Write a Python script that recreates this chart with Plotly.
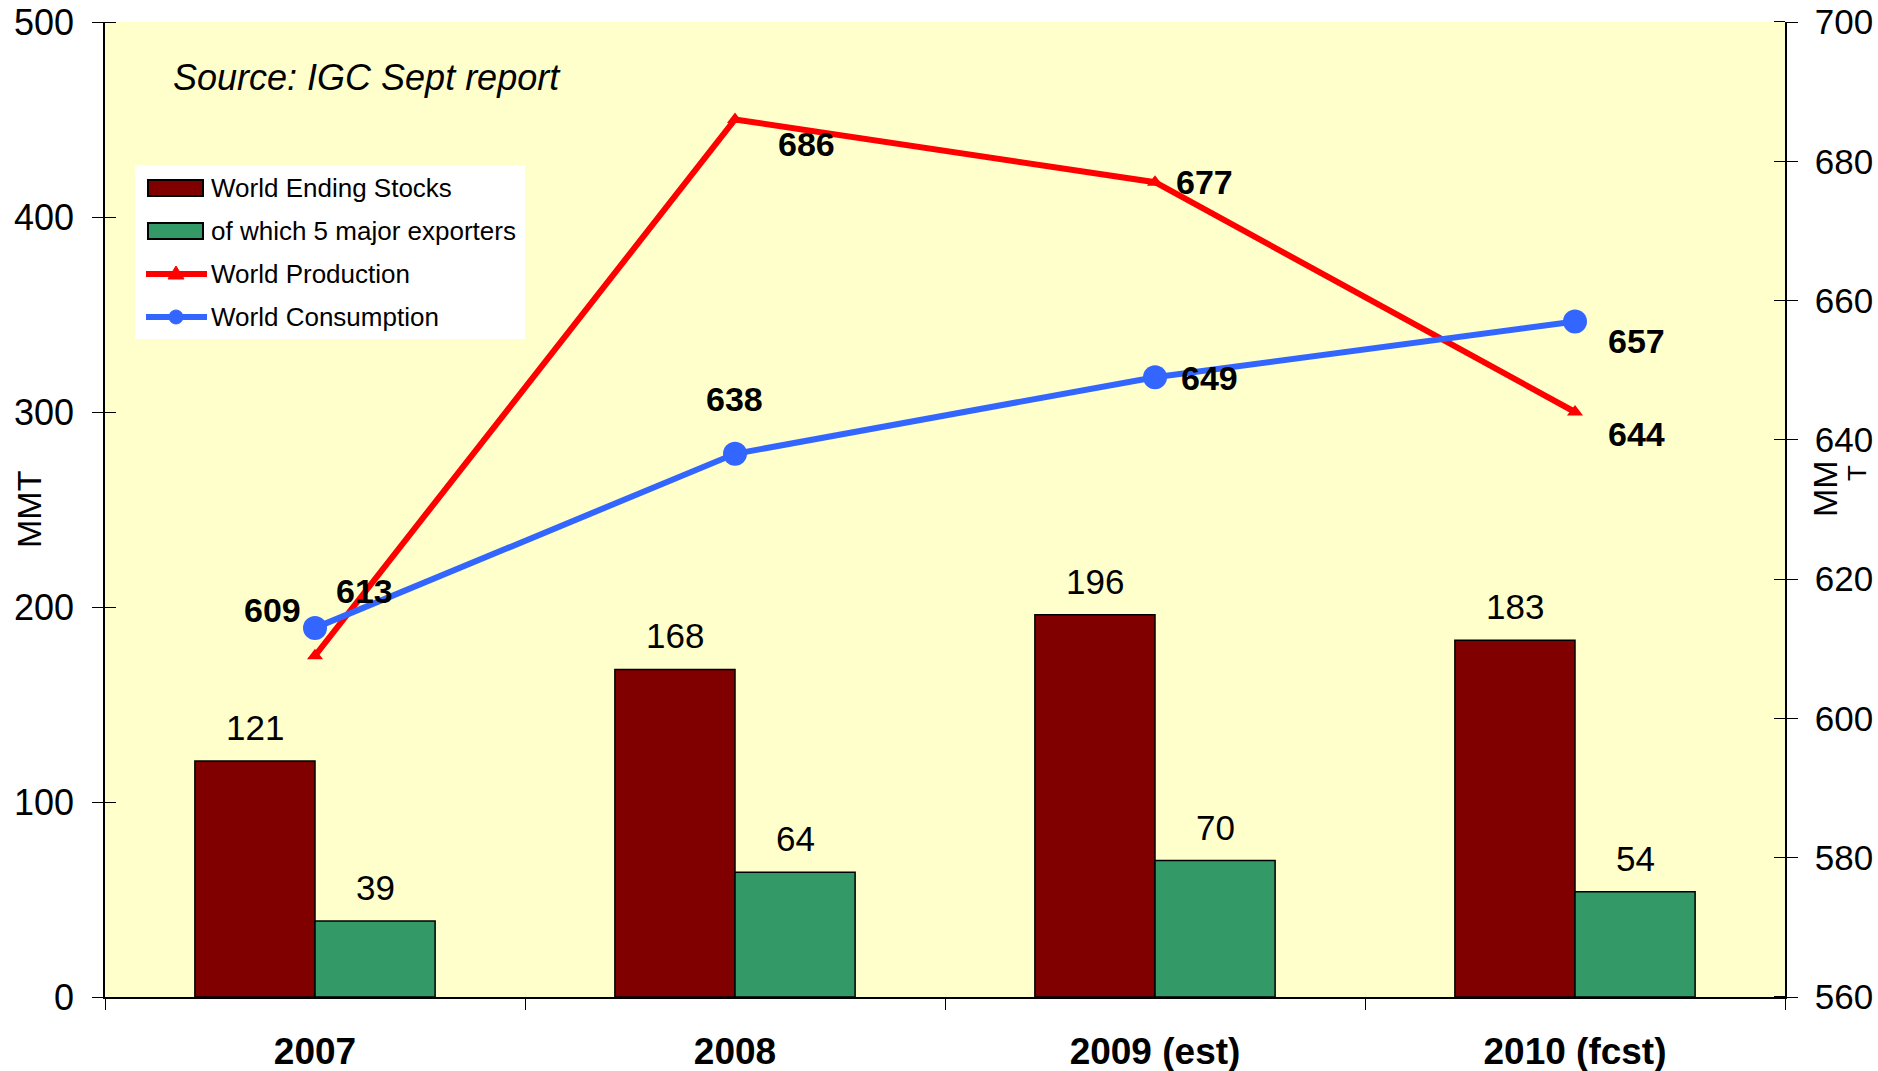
import plotly.graph_objects as go

categories = ["2007", "2008", "2009 (est)", "2010 (fcst)"]
ending_stocks = [121, 168, 196, 183]
major_exporters = [39, 64, 70, 54]
production = [609, 686, 677, 644]
consumption = [613, 638, 649, 657]

left_ticks = [0, 100, 200, 300, 400, 500]
right_ticks = [560, 580, 600, 620, 640, 660, 680, 700]

# label offsets (px) for line-value labels
prod_shift = [(-43, 46), (71, -24), (49, 0), (61, -22)]
cons_shift = [(49, 37), (-1, 55), (54, -1), (61, -20)]

FONT = "Liberation Sans, Arial, sans-serif"
W, H = 1878, 1071
L, R, T, B = 105, 93, 22, 74
PW, PH = W - L - R, H - T - B


def px(x):
    # page pixel x -> paper coordinate
    return (x - L) / PW


def py(y):
    return 1 - (y - T) / PH


fig = go.Figure()
fig.add_trace(go.Bar(
    x=categories, y=ending_stocks, name="World Ending Stocks",
    marker=dict(color="#800000", line=dict(color="black", width=1.5)),
    cliponaxis=False, showlegend=False))
fig.add_trace(go.Bar(
    x=categories, y=major_exporters, name="of which 5 major exporters",
    marker=dict(color="#339966", line=dict(color="black", width=1.5)),
    cliponaxis=False, showlegend=False))
fig.add_trace(go.Scatter(
    x=categories, y=production, name="World Production", mode="lines+markers",
    line=dict(color="#FF0000", width=6),
    marker=dict(symbol="triangle-up", size=14, color="#FF0000"),
    showlegend=False, yaxis="y2", cliponaxis=False))
fig.add_trace(go.Scatter(
    x=categories, y=consumption, name="World Consumption", mode="lines+markers",
    line=dict(color="#3366FF", width=6),
    marker=dict(symbol="circle", size=24, color="#3366FF"),
    showlegend=False, yaxis="y2", cliponaxis=False))

annotations = []
# bar value labels
for i, (a, b) in enumerate(zip(ending_stocks, major_exporters)):
    for v, dx in ((a, -60), (b, 60)):
        annotations.append(dict(x=i, y=v, xref="x", yref="y", text=str(v), showarrow=False,
                                xshift=dx, yshift=12, yanchor="bottom",
                                font=dict(family=FONT, size=35, color="black")))
for i, (v, (dx, dy)) in enumerate(zip(production, prod_shift)):
    annotations.append(dict(x=i, y=v, xref="x", yref="y2", text=str(v), showarrow=False,
                            xshift=dx, yshift=dy,
                            font=dict(family=FONT, size=34, color="black", weight="bold")))
for i, (v, (dx, dy)) in enumerate(zip(consumption, cons_shift)):
    annotations.append(dict(x=i, y=v, xref="x", yref="y2", text=str(v), showarrow=False,
                            xshift=dx, yshift=dy,
                            font=dict(family=FONT, size=34, color="black", weight="bold")))
annotations.append(dict(x=px(171), y=py(78), xref="paper", yref="paper",
                        text="<i>Source: IGC Sept report</i>", showarrow=False,
                        xanchor="left", yanchor="middle",
                        font=dict(family=FONT, size=36, color="black")))
# axis titles
annotations.append(dict(x=px(29), y=py(510), xref="paper", yref="paper", text="MMT",
                        showarrow=False, textangle=-90, xanchor="center", yanchor="middle",
                        font=dict(family=FONT, size=34, color="black")))
annotations.append(dict(x=px(1825), y=py(488), xref="paper", yref="paper",
                        text="MM", showarrow=False, textangle=-90,
                        xanchor="center", yanchor="middle",
                        font=dict(family=FONT, size=34, color="black")))
annotations.append(dict(x=px(1857), y=py(473), xref="paper", yref="paper",
                        text="T", showarrow=False, textangle=-90,
                        xanchor="center", yanchor="middle",
                        font=dict(family=FONT, size=26, color="black")))

# ---- custom legend (swatches + labels) ----
legend_names = ["World Ending Stocks", "of which 5 major exporters",
                "World Production", "World Consumption"]
row_y = [188, 231, 274, 317]
shapes = [dict(type="rect", xref="paper", yref="paper", x0=px(135), x1=px(525),
               y0=py(339), y1=py(165), fillcolor="white", line=dict(width=0), layer="above")]
for yy, col in zip(row_y[:2], ["#800000", "#339966"]):
    shapes.append(dict(type="rect", xref="paper", yref="paper", x0=px(148), x1=px(203),
                       y0=py(yy + 8), y1=py(yy - 8), fillcolor=col,
                       line=dict(color="black", width=2), layer="above"))
for yy, col in zip(row_y[2:], ["#FF0000", "#3366FF"]):
    shapes.append(dict(type="line", xref="paper", yref="paper", x0=px(146), x1=px(207),
                       y0=py(yy), y1=py(yy), line=dict(color=col, width=6), layer="above"))
shapes.append(dict(type="path", xref="paper", yref="paper",
                   path="M {0} {1} L {2} {3} L {4} {5} Z".format(
                       px(176), py(row_y[2] - 8), px(168), py(row_y[2] + 5),
                       px(184), py(row_y[2] + 5)),
                   fillcolor="#FF0000", line=dict(color="#FF0000", width=1), layer="above"))
shapes.append(dict(type="circle", xref="paper", yref="paper",
                   x0=px(169), x1=px(183), y0=py(row_y[3] + 7), y1=py(row_y[3] - 7),
                   fillcolor="#3366FF", line=dict(color="#3366FF", width=1), layer="above"))
for yy, name in zip(row_y, legend_names):
    annotations.append(dict(x=px(209), y=py(yy), xref="paper", yref="paper", text=name,
                            showarrow=False, xanchor="left", yanchor="middle",
                            font=dict(family=FONT, size=26, color="black")))

EPS = 1e-3
fig.update_layout(
    width=W, height=H,
    margin=dict(l=L, r=R, t=T, b=B, autoexpand=False),
    paper_bgcolor="white", plot_bgcolor="#FFFFCC",
    barmode="group", bargap=0.428, bargroupgap=0,
    font=dict(family=FONT, size=35, color="black"),
    showlegend=False,
    xaxis=dict(type="category", range=[-0.5, len(categories) - 0.5],
               tickson="boundaries", ticks="outside", ticklen=11,
               tickcolor="black", showline=True, linecolor="black", linewidth=1.5,
               showgrid=False, zeroline=False, automargin=False, tickangle=0,
               ticklabelstandoff=21, ticklabeloverflow="allow",
               tickfont=dict(family=FONT, size=37, color="black", weight="bold")),
    yaxis=dict(range=[0, 500], tickvals=left_ticks, ticks="outside", ticklen=11,
               tickcolor="black", showline=True, linecolor="black", linewidth=1.5,
               showgrid=False, zeroline=False, automargin=False, ticklabeloverflow="allow",
               minor=dict(tickvals=[v + EPS for v in left_ticks], ticks="inside",
                          ticklen=11, tickcolor="black", showgrid=False),
               tickfont=dict(family=FONT, size=36, color="black"), ticklabelstandoff=11),
    yaxis2=dict(range=[560, 700], tickvals=right_ticks, overlaying="y", side="right",
                ticks="outside", ticklen=11, tickcolor="black", showline=True,
                linecolor="black", linewidth=1.5, showgrid=False, zeroline=False,
                automargin=False, ticklabeloverflow="allow",
                minor=dict(tickvals=[v + EPS for v in right_ticks], ticks="inside",
                           ticklen=11, tickcolor="black", showgrid=False),
                tickfont=dict(family=FONT, size=35, color="black"), ticklabelstandoff=10),
    annotations=annotations,
    shapes=shapes,
)

fig.write_html("out.html", config={"displayModeBar": False},
               post_script="document.body.style.margin='0';document.body.style.overflow='hidden';")
